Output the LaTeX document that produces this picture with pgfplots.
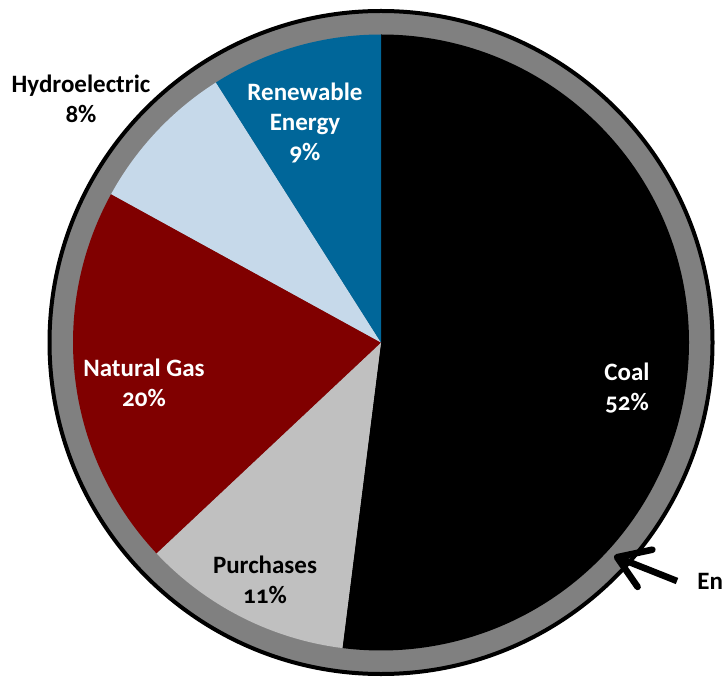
\documentclass[border=0pt]{standalone}
\usepackage{fontspec}
\setmainfont{Carlito}
\usepackage{pgfplots}
\pgfplotsset{compat=1.18}
\usetikzlibrary{arrows.meta}

\definecolor{coal}{RGB}{0,0,0}
\definecolor{purch}{RGB}{192,192,192}
\definecolor{natgas}{RGB}{128,0,0}
\definecolor{hydro}{RGB}{198,217,234}
\definecolor{renew}{RGB}{0,102,153}
\definecolor{ring}{RGB}{128,128,128}

% pie radius (1 px = 0.5pt)
\def\R{154pt}

\begin{document}
\begin{tikzpicture}
  \clip (0,0) rectangle (361pt,339pt);
  \begin{axis}[
      hide axis,
      x=0.5pt, y=0.5pt,
      xmin=0, xmax=722,
      ymin=0, ymax=678,
      y dir=reverse,
      clip=false,
  ]
  \coordinate (c) at (axis cs:381,342.5);

  % outer ring
  \filldraw[fill=ring, draw=black, line width=2pt] (c) circle[radius=165.75pt];

  % slices: 52, 11, 20, 8, 9 percent, clockwise from the top
  \fill[coal]   (c) -- ++(90:\R)     arc[start angle=90,     delta angle=-52*3.6, radius=\R] -- cycle;
  \fill[purch]  (c) -- ++(-97.2:\R)  arc[start angle=-97.2,  delta angle=-11*3.6, radius=\R] -- cycle;
  \fill[natgas] (c) -- ++(-136.8:\R) arc[start angle=-136.8, delta angle=-20*3.6, radius=\R] -- cycle;
  \fill[hydro]  (c) -- ++(-208.8:\R) arc[start angle=-208.8, delta angle=-8*3.6,  radius=\R] -- cycle;
  \fill[renew]  (c) -- ++(-237.6:\R) arc[start angle=-237.6, delta angle=-9*3.6,  radius=\R] -- cycle;

  % labels
  \tikzset{lbl/.style={align=center, font=\bfseries\fontsize{12.5}{15}\selectfont\addfontfeatures{Numbers=OldStyle}}}
  \node[lbl, text=white] at (axis cs:627,388) {Coal\\52\%};
  \node[lbl, text=black] at (axis cs:265,580) {Purchases\\11\%};
  \node[lbl, text=white] at (axis cs:144,383) {Natural Gas\\20\%};
  \node[lbl, text=black] at (axis cs:81,99) {Hydroelectric\\8\%};
  \node[lbl, text=white] at (axis cs:305,123) {Renewable\\Energy\\9\%};

  % arrow and cut-off caption
  \draw[line width=3.3pt, -{Straight Barb[length=15pt, width=20pt, round]}]
    (axis cs:677,581) -- (axis cs:614,556);
  \node[anchor=base west, font=\bfseries\fontsize{12.5}{14}\selectfont, inner sep=0pt]
    at (axis cs:697,589) {Energy Efficiency};
  \end{axis}
\end{tikzpicture}
\end{document}
